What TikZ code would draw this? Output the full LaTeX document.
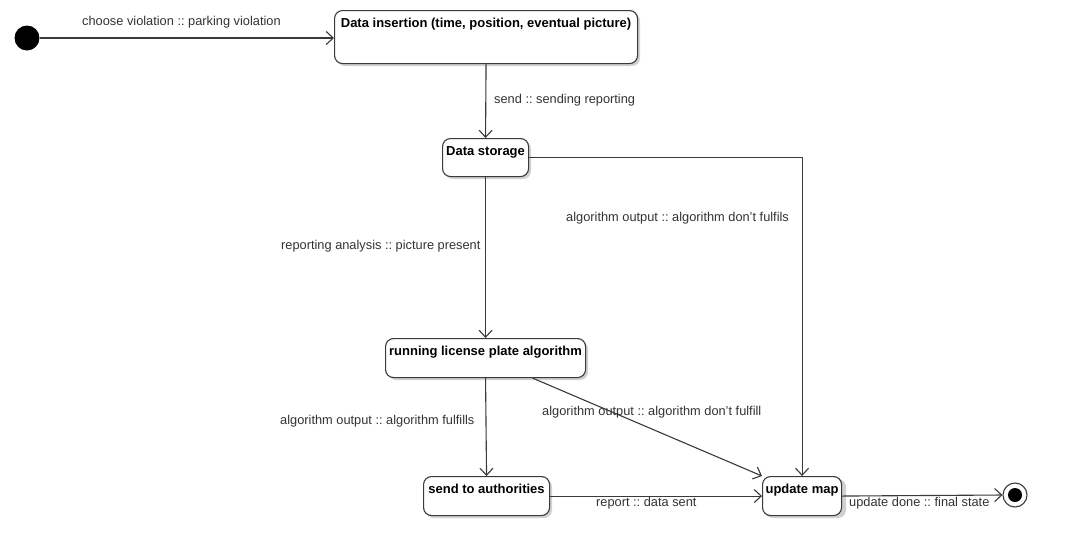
\documentclass[tikz,border=0pt]{standalone}
\usepackage{fontspec}
\setmainfont{Liberation Sans}
\usetikzlibrary{arrows.meta,calc}
\definecolor{ln}{HTML}{3A3A3A}
\definecolor{tx}{HTML}{333333}
\frenchspacing
\tikzset{
  statebox/.style={draw=ln, line width=1.1pt, rounded corners=8pt, fill=white, anchor=north west,
    inner xsep=0pt, inner ysep=0pt, text height=17pt, font=\fontsize{13}{15}\selectfont\bfseries, text=black},
  flow/.style={draw=ln, line width=1.1pt, -{Straight Barb[length=7pt,width=13pt,line width=1.1pt]}},
  lbl/.style={font=\fontsize{12.8}{15}\selectfont, text=tx, inner sep=0pt, anchor=west},
  shadowbox/.style={fill=black!18, draw=none, rounded corners=8pt}
}
\begin{document}
\begin{tikzpicture}[x=1pt,y=-1pt]
\useasboundingbox[fill=white] (0,0) rectangle (1067,555);
% shadows
\fill[shadowbox] (337,13) rectangle (640,66);
\fill[shadowbox] (445,141) rectangle (531,179);
\fill[shadowbox] (388,341) rectangle (588,380);
\fill[shadowbox] (426,479) rectangle (552,518);
\fill[shadowbox] (765,479) rectangle (846,518);
% states
\node[circle, fill=black, minimum size=25pt, inner sep=0pt] (init) at (27,38) {};
\node[statebox, minimum width=303pt, text depth=36pt] (ins) at (334,10) {Data insertion (time, position, eventual picture)};
\node[statebox, minimum width=86pt, text depth=21pt] (store) at (442,138) {Data storage};
\node[statebox, minimum width=200pt, text depth=22pt] (run) at (385,338) {running license plate algorithm};
\node[statebox, minimum width=126pt, text depth=22pt] (send) at (423,476) {send to authorities};
\node[statebox, minimum width=79pt, text depth=22pt] (upd) at (762,476) {update map};
\node[circle, draw=ln, line width=1.1pt, fill=white, minimum size=24pt, inner sep=0pt] (fin) at (1015,495) {};
\fill[black] (fin.center) circle (7);
% connectors
\draw[flow] (init.east) -- (init.east -| ins.west);
\draw[flow] (ins.south) -- (store.north);
\draw[flow] (store.east) -| (upd.north);
\draw[flow] (store.south) -- (run.north);
\draw[flow] ($(run.south)+(47,0)$) -- (upd.north west);
\draw[flow] (run.south) -- (send.north);
\draw[flow] (send.east) -- (upd.west);
\draw[flow] (upd.east) -- (fin.west);
% labels
\node[lbl] (l1) at (82,22) {choose violation :: parking violation};
\node[lbl] (l2) at (494,100) {send :: sending reporting};
\node[lbl] (l3) at (566,218) {algorithm output :: algorithm don't fulfils};
\node[lbl] (l4) at (281,246) {reporting analysis :: picture present};
\node[lbl] (l5) at (542,412) {algorithm output :: algorithm don't fulfill};
\node[lbl] (l6) at (280,421) {algorithm output :: algorithm fulfills};
\node[lbl] (l7) at (596,503) {report :: data sent};
\node[lbl] (l8) at (849,503) {update done :: final state};
\end{tikzpicture}
\end{document}
